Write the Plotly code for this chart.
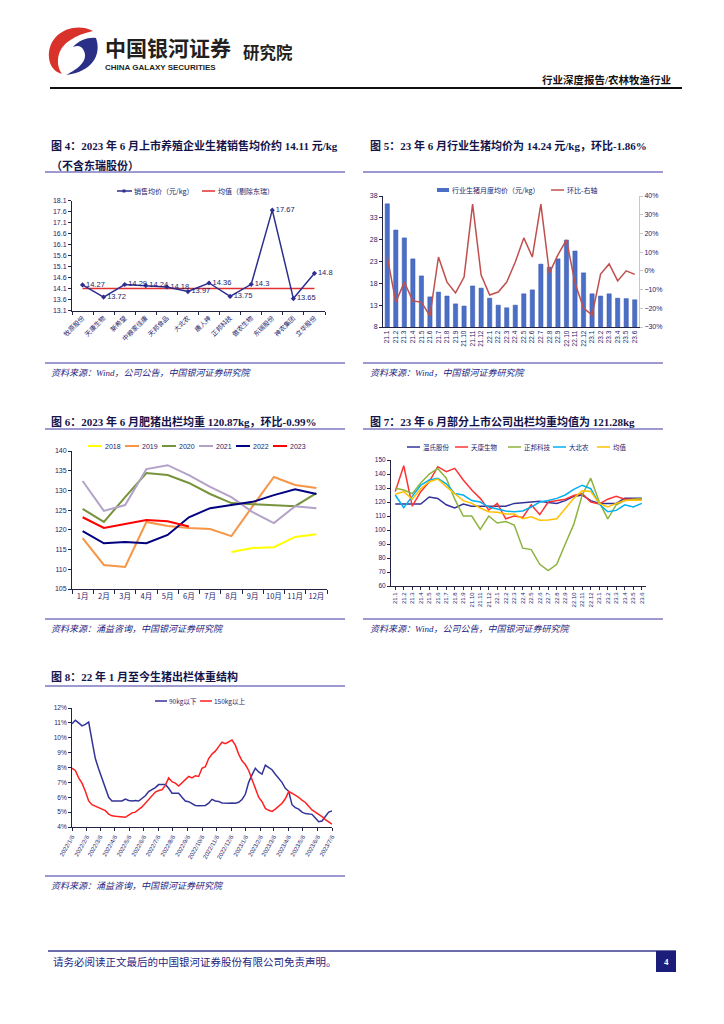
import plotly.graph_objects as go
import pandas as pd

W, H = 724, 1024
OX, OY = 8, 8   # page body margin compensation

# ---------------- data ----------------
fig4_companies = ["牧原股份", "天康生物", "新希望", "中粮家佳康", "天邦食品", "大北农",
                  "唐人神", "正邦科技", "傲农生物", "东瑞股份", "神农集团", "立华股份"]
fig4_price = [14.27, 13.72, 14.29, 14.24, 14.18, 13.97, 14.36, 13.75, 14.30, 17.67, 13.65, 14.80]
fig4_avg = [14.11, 14.11, 14.11, 14.11, 14.11, 14.11, 14.11, 14.11, 14.11, 14.11, 14.11, 14.11]
fig4_yticks = [13.1, 13.6, 14.1, 14.6, 15.1, 15.6, 16.1, 16.6, 17.1, 17.6, 18.1]

fig5_months = ["21.1", "21.2", "21.3", "21.4", "21.5", "21.6", "21.7", "21.8", "21.9", "21.10",
               "21.11", "21.12", "22.1", "22.2", "22.3", "22.4", "22.5", "22.6", "22.7", "22.8",
               "22.9", "22.10", "22.11", "22.12", "23.1", "23.2", "23.3", "23.4", "23.5", "23.6"]
fig5_price = [36.2, 30.2, 28.4, 23.6, 19.7, 14.9, 16.0, 15.1, 13.3, 12.8,
              17.4, 16.9, 14.6, 13.0, 12.4, 13.0, 15.6, 16.5, 22.4, 21.7,
              23.6, 27.9, 25.4, 20.4, 15.6, 15.1, 15.6, 14.6, 14.5, 14.24]
fig5_mom = [7.4, -16.7, -6.0, -16.1, -16.7, -24.1, 7.4, -6.0, -11.8, -3.3,
            35.7, -2.2, -12.9, -11.3, -6.0, 4.7, 17.6, 7.4, 35.7, -1.2,
            8.5, 16.5, -6.5, -19.9, -23.6, -1.7, 3.7, -5.4, 0.0, -1.86]

fig6_months = ["1月", "2月", "3月", "4月", "5月", "6月", "7月", "8月", "9月", "10月", "11月", "12月"]
fig6_2018 = [None, None, None, None, None, None, None, 114.4, 115.4, 115.6, 118.2, 118.9]
fig6_2019 = [117.9, 111.1, 110.6, 122.0, 121.0, 120.5, 120.2, 118.4, 126.0, 133.4, 131.4, 130.6]
fig6_2020 = [125.3, 122.0, 128.3, 134.4, 133.9, 131.9, 129.1, 126.8, 126.5, 126.3, 126.0, 129.3]
fig6_2021 = [132.4, 124.8, 126.3, 135.4, 136.4, 133.9, 130.9, 128.3, 124.5, 121.7, 126.0, 125.5]
fig6_2022 = [119.7, 116.6, 116.9, 116.6, 118.7, 123.2, 125.5, 126.3, 127.1, 128.8, 130.3, 129.1]
fig6_2023 = [123.2, 120.5, 121.5, 122.5, 122.2, 120.87, None, None, None, None, None, None]

fig7_months = fig5_months
fig7_wens = [118.6, 118.6, 118.6, 118.6, 123.6, 122.5, 118.0, 115.7, 118.6, 116.9,
             117.0, 117.0, 117.0, 117.0, 119.0, 119.7, 120.0, 120.6, 119.7, 119.0,
             121.0, 124.0, 125.0, 121.0, 119.0, 119.0, 119.0, 122.6, 122.6, 122.6]
fig7_tk = [127.4, 145.9, 117.0, 127.4, 134.5, 145.2, 141.7, 144.0, 135.7, 128.6,
           122.6, 114.3, 119.0, 108.0, 110.0, 109.0, 118.0, 111.0, 120.0, 121.0,
           122.0, 124.6, 126.0, 120.0, 118.6, 122.0, 124.0, 122.0, 122.0, 122.0]
fig7_zb = [129.8, 128.6, 126.0, 133.6, 140.0, 144.0, 137.0, 122.0, 110.0, 110.0,
           100.5, 110.0, 105.0, 106.0, 103.6, 87.0, 86.0, 75.5, 71.0, 75.5,
           90.0, 104.0, 125.0, 137.0, 120.0, 108.0, 118.0, 121.0, 122.0, 122.5]
fig7_dbn = [125.0, 116.0, 124.0, 132.0, 135.7, 137.0, 133.0, 126.0, 125.0, 121.0,
            120.0, 116.4, 115.0, 113.6, 113.0, 113.6, 116.4, 120.0, 121.0, 122.6,
            125.0, 129.0, 132.0, 129.5, 118.6, 113.0, 114.0, 118.0, 116.4, 119.0]
fig7_avg = [125.5, 127.4, 122.0, 129.5, 134.5, 136.4, 131.0, 126.0, 121.0, 119.0,
            115.7, 113.1, 112.6, 111.4, 111.4, 108.0, 109.5, 107.0, 107.1, 108.0,
            115.0, 122.6, 128.0, 127.5, 119.0, 116.4, 119.0, 121.0, 121.5, 121.28]

fig8_below90 = [10.94, 11.17, 11.0, 10.8, 10.9, 11.05, 9.8, 8.6, 7.9, 7.3,
                6.7, 6.0, 5.75, 5.75, 5.75, 5.75, 5.88, 5.78, 5.75, 5.78,
                5.75, 5.9, 6.1, 6.38, 6.5, 6.65, 6.85, 6.85, 6.85, 6.6,
                6.27, 6.27, 6.27, 6.0, 5.75, 5.7, 5.55, 5.45, 5.43, 5.45,
                5.45, 5.6, 5.86, 5.75, 5.72, 5.62, 5.6, 5.6, 5.62, 5.6,
                5.66, 5.85, 6.2, 7.0, 7.5, 7.95, 7.7, 7.55, 8.15, 8.0,
                7.85, 7.55, 7.25, 7.0, 6.6, 6.4, 5.5, 5.3, 5.2, 5.0,
                4.9, 4.9, 4.85, 4.6, 4.35, 4.4, 4.7, 5.0, 5.07]
fig8_above150 = [7.95, 7.8, 7.3, 6.95, 6.4, 5.75, 5.5, 5.4, 5.3, 5.2,
                 5.1, 4.87, 4.75, 4.72, 4.7, 4.7, 4.65, 4.8, 4.95, 5.0,
                 5.15, 5.35, 5.6, 5.85, 6.1, 6.35, 6.45, 6.5, 6.8, 7.3,
                 7.05, 6.95, 6.75, 6.95, 7.2, 7.4, 7.3, 7.45, 7.4, 7.95,
                 8.05, 8.6, 8.9, 9.1, 9.4, 9.7, 9.6, 9.7, 9.85, 9.5,
                 8.9, 8.45, 8.2, 7.8, 7.2, 6.5, 6.0, 5.7, 5.25, 5.12,
                 5.05, 5.2, 5.4, 5.6, 5.9, 6.38, 6.27, 6.15, 6.0, 5.8,
                 5.65, 5.4, 5.15, 5.0, 4.87, 4.7, 4.5, 4.35, 4.2]
fig8_dates = pd.date_range("2022-01-06", periods=len(fig8_below90), freq="7D")
fig8_tickvals = ["2022-01-06", "2022-02-06", "2022-03-06", "2022-04-06", "2022-05-06", "2022-06-06",
                 "2022-07-06", "2022-08-06", "2022-09-06", "2022-10-06", "2022-11-06", "2022-12-06",
                 "2023-01-06", "2023-02-06", "2023-03-06", "2023-04-06", "2023-05-06", "2023-06-06",
                 "2023-07-06"]
fig8_ticktext = ["2022/1/6", "2022/2/6", "2022/3/6", "2022/4/6", "2022/5/6", "2022/6/6",
                 "2022/7/6", "2022/8/6", "2022/9/6", "2022/10/6", "2022/11/6", "2022/12/6",
                 "2023/1/6", "2023/2/6", "2023/3/6", "2023/4/6", "2023/5/6", "2023/6/6",
                 "2023/7/6"]

# ---------------- helpers ----------------
def X(p): return (p - OX) / W
def Y(p): return 1 - (p - OY) / H
def dx(a, b): return [X(a), X(b)]
def dy(top, bottom): return [Y(bottom), Y(top)]

SERIF = "Liberation Serif, Noto Sans CJK SC"
SANS = "Liberation Sans, Noto Sans CJK SC"
CJK = "Noto Sans CJK SC"
NAVY = "#1c1c6b"
TITLE = "#14144a"
RULE = "#7b78c0"

shapes, annotations = [], []

def line(x0, y0, x1, y1, color, width=1, dash=None):
    d = dict(color=color, width=width)
    if dash: d["dash"] = dash
    shapes.append(dict(type="line", xref="paper", yref="paper", x0=X(x0), y0=Y(y0),
                       x1=X(x1), y1=Y(y1), line=d, layer="above"))

def rect(x0, y0, x1, y1, fill, lc=None):
    shapes.append(dict(type="rect", xref="paper", yref="paper", x0=X(x0), y0=Y(y1),
                       x1=X(x1), y1=Y(y0), fillcolor=fill, line=dict(width=0 if lc is None else 1, color=lc or fill)))

def text(x, y, s, size, color="#000", anchor="left", family=SANS, yanchor="middle"):
    annotations.append(dict(xref="paper", yref="paper", x=X(x), y=Y(y), text=s, showarrow=False,
                            xanchor=anchor, yanchor=yanchor, borderpad=0,
                            font=dict(size=size, color=color, family=family)))

def path(pts_cmds):
    out = []
    for c in pts_cmds:
        if isinstance(c, str):
            out.append(c)
        else:
            out.append(f"{X(c[0]):.5f},{Y(c[1]):.5f}")
    return " ".join(out)

fig = go.Figure()

# ---------------- header ----------------
shapes.append(dict(type="path", xref="paper", yref="paper", fillcolor="#d8322a", line=dict(width=0),
                   path=path(["M", (93, 31), "C", (74, 21), (47, 33), (49, 58), "C", (50, 67), (55, 72), (62, 74),
                              "C", (55, 64), (57, 49), (69, 41), "C", (76, 36), (84, 33), (93, 31), "Z"])))
shapes.append(dict(type="path", xref="paper", yref="paper", fillcolor="#2b2f86", line=dict(width=0),
                   path=path(["M", (96, 38), "C", (102, 55), (92, 72), (66, 75), "C", (80, 68), (88, 60), (84, 51),
                              "C", (82, 46), (78, 45), (73, 47), "C", (79, 40), (89, 37), (96, 38), "Z"])))
text(104, 47, "<b>中国银河证券</b>", 21, "#231f20", family=CJK)
text(104, 67, "<b>CHINA GALAXY SECURITIES</b>", 8, "#231f20", family="Liberation Sans")
text(242, 52, "<b>研究院</b>", 16.5, "#231f20", family=CJK)
text(672, 80, "<b>行业深度报告/农林牧渔行业</b>", 10.5, "#111", anchor="right", family=SERIF)
line(50, 88, 682, 88, "#111", 2)

# ---------------- titles / rules / sources ----------------
TS = 11
text(50, 145, "<b>图 4：2023 年 6 月上市养殖企业生猪销售均价约 14.11 元/kg</b>", TS, TITLE, family=SERIF)
text(50, 165, "<b>（不含东瑞股份）</b>", TS, TITLE, family=SERIF)
line(45, 172, 345, 172, RULE, 1.5)
text(369, 145, "<b>图 5：23 年 6 月行业生猪均价为 14.24 元/kg，环比-1.86%</b>", TS, TITLE, family=SERIF)
line(363, 172, 663, 172, RULE, 1.5)
text(50, 421, "<b>图 6：2023 年 6 月肥猪出栏均重 120.87kg，环比-0.99%</b>", TS, TITLE, family=SERIF)
line(45, 429, 345, 429, RULE, 1.5)
text(369, 421, "<b>图 7：23 年 6 月部分上市公司出栏均重均值为 121.28kg</b>", TS, TITLE, family=SERIF)
line(363, 429, 663, 429, RULE, 1.5)
text(50, 676, "<b>图 8：22 年 1 月至今生猪出栏体重结构</b>", TS, TITLE, family=SERIF)
line(45, 686, 345, 686, RULE, 1.5)

SRC = "#1f1f80"
line(45, 363, 345, 363, RULE, 1.5)
text(50, 373, "<i>资料来源：Wind，公司公告，中国银河证券研究院</i>", 9, SRC, family=SERIF)
line(363, 363, 663, 363, RULE, 1.5)
text(369, 373, "<i>资料来源：Wind，中国银河证券研究院</i>", 9, SRC, family=SERIF)
line(45, 619, 345, 619, RULE, 1.5)
text(50, 629, "<i>资料来源：涌益咨询，中国银河证券研究院</i>", 9, SRC, family=SERIF)
line(363, 619, 663, 619, RULE, 1.5)
text(369, 629, "<i>资料来源：Wind，公司公告，中国银河证券研究院</i>", 9, SRC, family=SERIF)
line(45, 876, 345, 876, RULE, 1.5)
text(50, 886, "<i>资料来源：涌益咨询，中国银河证券研究院</i>", 9, SRC, family=SERIF)

# footer
line(48, 951, 676, 951, "#3a3a8a", 1.5)
text(52, 962, "请务必阅读正文最后的中国银河证券股份有限公司免责声明。", 10.5, "#1f1f80", family=SERIF)
rect(656, 951, 676, 972, "#1c1c7a")
text(666, 961.5, "<b>4</b>", 9, "white", anchor="center", family="Liberation Serif")

# ---------------- custom legends ----------------
LG = 7
# fig4
line(117, 191, 132, 191, "#2e2e8f", 1.5)
rect(122.5, 189.5, 125.5, 192.5, "#2e2e8f")
text(133, 191, "销售均价（元/kg）", LG, NAVY, family=CJK)
line(202, 191, 215, 191, "#e03030", 1.5)
text(217, 191, "均值（剔除东瑞）", LG, NAVY, family=CJK)
# fig5
rect(437, 188, 449, 192, "#4a6fc7")
text(451, 190, "行业生猪月度均价（元/kg）", LG, NAVY, family=CJK)
line(551, 190, 564, 190, "#c0504d", 1.5)
text(566, 190, "环比-右轴", LG, NAVY, family=CJK)
# fig6
f6_cols = ["#ffff00", "#f79646", "#77933c", "#b3a2c7", "#000080", "#ff0000"]
f6_names = ["2018", "2019", "2020", "2021", "2022", "2023"]
for i, (c, n) in enumerate(zip(f6_cols, f6_names)):
    x0 = 88 + i * 37
    line(x0, 446, x0 + 14, 446, c, 2)
    text(x0 + 16, 446, n, LG, NAVY)
# fig7
f7_cols = ["#333399", "#ff3333", "#8db33f", "#00b0f0", "#ffc000"]
f7_names = ["温氏股份", "天康生物", "正邦科技", "大北农", "均值"]
f7_x = [407, 455, 508, 553, 597]
for c, n, x0 in zip(f7_cols, f7_names, f7_x):
    line(x0, 447, x0 + 13, 447, c, 1.5)
    text(x0 + 15, 447, n, 6.5, NAVY, family=CJK)
# fig8
line(155, 701, 167, 701, "#333399", 1.5)
text(168, 701, "90kg以下", 6.5, NAVY, family=CJK)
line(200, 701, 212, 701, "#ff2020", 1.5)
text(213, 701, "150kg以上", 6.5, NAVY, family=CJK)

# ---------------- traces ----------------
# fig4
fig.add_trace(go.Scatter(x=fig4_companies, y=fig4_avg, mode="lines", line=dict(color="#e03030", width=1.5),
                         xaxis="x", yaxis="y"))
fig.add_trace(go.Scatter(x=fig4_companies, y=fig4_price, mode="lines+markers+text",
                         line=dict(color="#2e2e8f", width=1.5), marker=dict(symbol="diamond", size=4, color="#2e2e8f"),
                         text=[f"{v:g}" for v in fig4_price], textposition="middle right",
                         textfont=dict(size=7.5, color=NAVY, family="Liberation Sans"),
                         cliponaxis=False, xaxis="x", yaxis="y"))
# fig5
fig.add_trace(go.Bar(x=fig5_months, y=fig5_price, marker=dict(color="#4a6fc7", line=dict(color="#3a56a8", width=0.5)),
                     width=0.5, xaxis="x2", yaxis="y2"))
fig.add_trace(go.Scatter(x=fig5_months, y=fig5_mom, mode="lines", line=dict(color="#c0504d", width=1.5),
                         xaxis="x2", yaxis="y3"))
# fig6
for ser, c in zip([fig6_2018, fig6_2019, fig6_2020, fig6_2021, fig6_2022, fig6_2023], f6_cols):
    fig.add_trace(go.Scatter(x=fig6_months, y=ser, mode="lines", line=dict(color=c, width=2),
                             xaxis="x4", yaxis="y4"))
# fig7
for ser, c in zip([fig7_wens, fig7_tk, fig7_zb, fig7_dbn, fig7_avg], f7_cols):
    fig.add_trace(go.Scatter(x=fig7_months, y=ser, mode="lines", line=dict(color=c, width=1.5),
                             xaxis="x5", yaxis="y5"))
# fig8
fig.add_trace(go.Scatter(x=fig8_dates, y=fig8_below90, mode="lines", line=dict(color="#333399", width=1.5),
                         xaxis="x6", yaxis="y6"))
fig.add_trace(go.Scatter(x=fig8_dates, y=fig8_above150, mode="lines", line=dict(color="#ff2020", width=1.5),
                         xaxis="x6", yaxis="y6"))

# ---------------- axes ----------------
def ax(**kw):
    base = dict(showgrid=False, zeroline=False, showline=True, linecolor="#222244", linewidth=1,
                ticks="outside", ticklen=3, tickcolor="#222244", automargin=False,
                tickfont=dict(size=7, color=NAVY, family=SANS))
    base.update(kw)
    return base

layout = dict(
    template="none",
    width=W, height=H, margin=dict(l=0, r=0, t=0, b=0, pad=0, autoexpand=False), showlegend=False,
    paper_bgcolor="white", plot_bgcolor="white",
    shapes=shapes, annotations=annotations,
    xaxis=ax(domain=dx(72, 325), anchor="y", type="category", range=[-0.5, 11.5], tickson="boundaries",
             tickangle=-45, tickfont=dict(size=6.5, color=NAVY, family=CJK)),
    yaxis=ax(domain=dy(200.7, 310.7), anchor="x", range=[13.1, 18.1], tickmode="array",
             tickvals=fig4_yticks, ticktext=[f"{v:.1f}" for v in fig4_yticks]),
    xaxis2=ax(domain=dx(383, 639), anchor="y2", type="category", range=[-0.5, 29.5], tickmode="array",
              tickvals=fig5_months, ticktext=fig5_months, tickangle=-90, ticks="",
              tickfont=dict(size=6.5, color=NAVY, family=SANS)),
    yaxis2=ax(domain=dy(196, 327), anchor="x2", range=[8, 38], dtick=5, tick0=8),
    yaxis3=ax(overlaying="y2", anchor="x2", side="right", range=[-30, 40], dtick=10, ticksuffix="%",
              linecolor="#c8c8c8", tickcolor="#c8c8c8"),
    xaxis4=ax(domain=dx(72, 327), anchor="y4", type="category", range=[-0.5, 11.5], tickson="boundaries",
              ticklen=4, tickangle=0, tickfont=dict(size=7.5, color=NAVY, family=CJK)),
    yaxis4=ax(domain=dy(451, 589), anchor="x4", range=[105, 140], dtick=5),
    xaxis5=ax(domain=dx(391, 646), anchor="y5", type="category", range=[-0.5, 29.5], tickmode="array",
              tickvals=fig7_months, ticktext=fig7_months, tickangle=-90,
              tickfont=dict(size=6, color=NAVY, family=SANS)),
    yaxis5=ax(domain=dy(460, 586), anchor="x5", range=[60, 150], dtick=10, tickfont=dict(size=6.5, color=NAVY, family=SANS)),
    xaxis6=ax(domain=dx(72, 332), anchor="y6", type="date", range=["2022-01-06", "2023-07-06"], tickmode="array",
              tickvals=fig8_tickvals, ticktext=fig8_ticktext, tickangle=-60,
              tickfont=dict(size=6, color=NAVY, family=SANS)),
    yaxis6=ax(domain=dy(708, 827), anchor="x6", range=[4, 12], dtick=1, ticksuffix="%",
              tickfont=dict(size=6.5, color=NAVY, family=SANS)),
)
fig.update_layout(**layout)
fig.write_html("out.html")
